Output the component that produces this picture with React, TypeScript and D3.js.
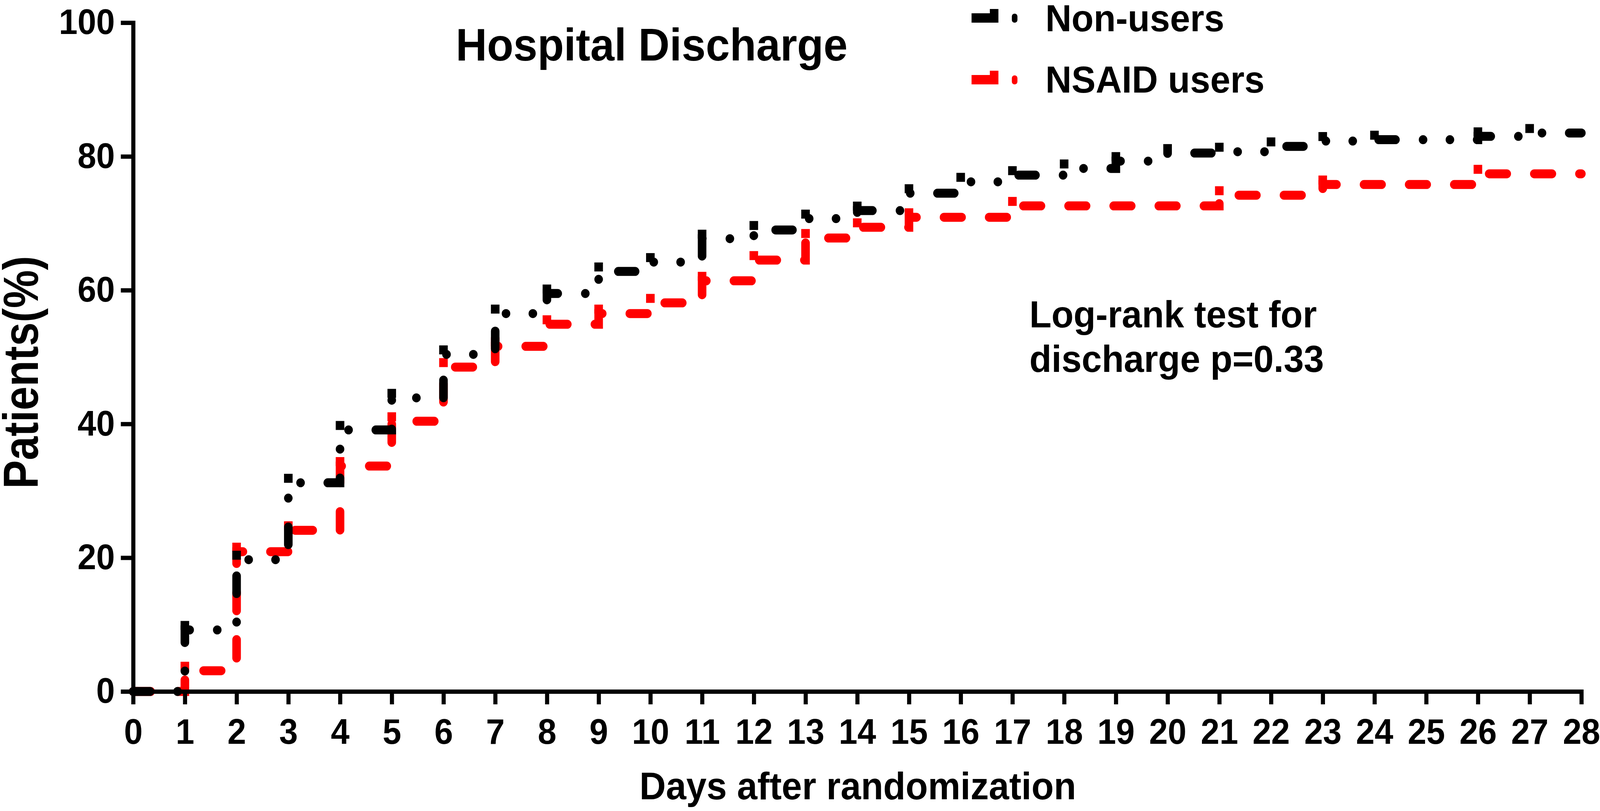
import React, { useRef, useEffect } from "react";
import * as d3 from "d3";

// cumulative discharge (%) at each event day
const nonUserDays = [0, 1, 2, 3, 4, 5, 6, 7, 8, 9, 10, 11, 12, 13, 14, 15, 16, 17, 18, 19, 20, 21, 22, 23, 24, 26, 27];
const nonUserPct = [0, 9.2, 19.7, 31.2, 39.1, 43.9, 50.4, 56.5, 59.5, 62.8, 64.2, 67.7, 69.0, 70.7, 71.9, 74.5, 76.2, 77.2, 78.2, 79.3, 80.5, 80.7, 81.5, 82.3, 82.5, 83.0, 83.5];

const nsaidDays = [0, 1, 2, 3, 4, 5, 6, 7, 8, 9, 10, 11, 12, 13, 14, 15, 17, 21, 23, 26];
const nsaidPct = [0, 3.1, 20.9, 24.1, 33.7, 40.4, 48.5, 51.6, 54.9, 56.5, 58.1, 61.4, 64.5, 67.8, 69.4, 70.9, 72.6, 74.2, 75.8, 77.4];

const xTicks = d3.range(0, 29);
const yTicks = [0, 20, 40, 60, 80, 100];
const lastDay = 28;

const seriesList = [
  { name: "NSAID users", days: nsaidDays, pct: nsaidPct, color: "#ff0000", dash: "47 74" },
  { name: "Non-users", days: nonUserDays, pct: nonUserPct, color: "#000000", dash: "45 74 0 72 0 73" },
];

const FONT = "'Liberation Sans', Arial, Helvetica, sans-serif";
const W = 4290;
const H = 2076;

const App = () => {
  const svgRef = useRef(null);

  useEffect(() => {
    document.body.style.margin = "0";
    document.body.style.overflow = "hidden";
    const sw = 23;

    const svg = d3.select(svgRef.current);
    svg.selectAll("*").remove();

    const x = d3.scaleLinear().domain([0, 28]).range([357, 4240]);
    const y = d3.scaleLinear().domain([0, 100]).range([1770, 58]);

    const line = d3.line()
      .x(d => x(d[0]))
      .y(d => y(d[1]))
      .curve(d3.curveStepAfter);

    // step curves
    seriesList.forEach(s => {
      const pts = s.days.map((d, i) => [d, s.pct[i]]);
      pts.push([lastDay, s.pct[s.pct.length - 1]]);

      svg.append("path")
        .datum(pts)
        .attr("fill", "none")
        .attr("stroke", s.color)
        .attr("stroke-width", sw)
        .attr("stroke-linecap", "round")
        .attr("stroke-linejoin", "miter")
        .attr("stroke-dasharray", s.dash)
        .attr("d", line);

      // square corner blocks at each step
      svg.append("g")
        .selectAll("rect")
        .data(pts.slice(1, -1))
        .enter()
        .append("rect")
        .attr("x", d => x(d[0]) - sw / 2)
        .attr("y", d => y(d[1]) - sw)
        .attr("width", sw)
        .attr("height", sw)
        .attr("fill", s.color);
    });

    // axes
    const xAxis = svg.append("g")
      .attr("transform", `translate(0,${y(0)})`)
      .call(d3.axisBottom(x).tickValues(xTicks).tickSize(33).tickSizeOuter(0).tickPadding(37));

    const yAxis = svg.append("g")
      .attr("transform", `translate(${x(0)},0)`)
      .call(d3.axisLeft(y).tickValues(yTicks).tickSize(33).tickSizeOuter(0).tickPadding(16));

    [xAxis, yAxis].forEach(a => {
      a.select(".domain").attr("stroke", "#000").attr("stroke-width", 11).attr("stroke-linecap", "square");
      a.selectAll(".tick line").attr("stroke", "#000").attr("stroke-width", 11);
      a.selectAll(".tick text")
        .attr("fill", "#000")
        .attr("font-family", FONT)
        .attr("font-weight", "bold")
        .attr("font-size", 90);
    });

    const addText = (tx, ty, str, size, anchor = "start") =>
      svg.append("text")
        .attr("x", tx)
        .attr("y", ty)
        .attr("text-anchor", anchor)
        .attr("font-family", FONT)
        .attr("font-weight", "bold")
        .attr("font-size", size)
        .attr("fill", "#000")
        .text(str);

    // titles
    addText(1222, 155, "Hospital Discharge", 116);
    addText(2300, 2046, "Days after randomization", 98, "middle");
    addText(0, 0, "Patients(%)", 132, "middle")
      .attr("transform", "translate(102,953) rotate(-90)")
      .attr("textLength", 596)
      .attr("lengthAdjust", "spacingAndGlyphs");

    addText(2760, 838, "Log-rank test for", 97);
    addText(2760, 952, "discharge p=0.33", 97);

    // legend
    const legendData = [
      { label: "Non-users", color: "#000000", cy: 46, ty: 80 },
      { label: "NSAID users", color: "#ff0000", cy: 204, ty: 237 },
    ];
    const lg = svg.selectAll(".legend")
      .data(legendData)
      .enter()
      .append("g")
      .attr("class", "legend");

    lg.append("rect")
      .attr("x", 2605).attr("y", d => d.cy - 12)
      .attr("width", 72).attr("height", 24)
      .attr("fill", d => d.color);
    lg.append("rect")
      .attr("x", 2654).attr("y", d => d.cy - 23)
      .attr("width", 23).attr("height", 12)
      .attr("fill", d => d.color);
    lg.append("rect")
      .attr("x", 2713).attr("y", d => d.cy - 11)
      .attr("width", 15).attr("height", 23)
      .attr("rx", 7)
      .attr("fill", d => d.color);
    lg.append("text")
      .attr("x", 2803)
      .attr("y", d => d.ty)
      .attr("font-family", FONT)
      .attr("font-weight", "bold")
      .attr("font-size", 97)
      .attr("fill", "#000")
      .text(d => d.label);
  }, []);

  return (
    <svg
      ref={svgRef}
      viewBox={`0 0 ${W} ${H}`}
      preserveAspectRatio="none"
      style={{ position: "fixed", left: 0, top: 0, width: "100vw", height: "100vh", display: "block", background: "#fff" }}
    ></svg>
  );
};

export default App;
